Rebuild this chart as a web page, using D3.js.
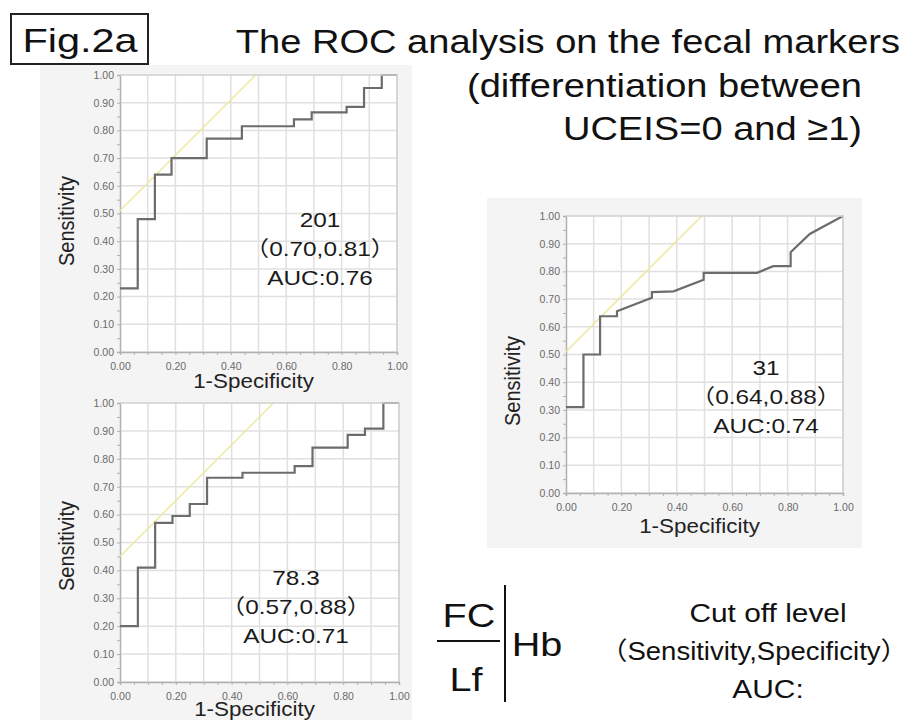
<!DOCTYPE html>
<html>
<head>
<meta charset="utf-8">
<script src="https://cdn.jsdelivr.net/npm/d3@7"></script>
<style>
  body { margin: 0; background: #fff; }
  svg { font-family: "Liberation Sans", Arial, "Noto Sans CJK JP", sans-serif; }
</style>
</head>
<body>
<div id="fig"></div>
<script>
// ROC curve vertices (1-Specificity, Sensitivity)
var fcX = [0, 0.064, 0.126, 0.186, 0.313, 0.44, 0.628, 0.692, 0.818, 0.881, 0.945, 1.0];
var fcY = [0.23, 0.48, 0.64, 0.70, 0.77, 0.815, 0.84, 0.865, 0.885, 0.953, 1.0, 1.0];

var lfX = [0, 0.064, 0.126, 0.188, 0.25, 0.312, 0.439, 0.626, 0.69, 0.816, 0.878, 0.944, 1.0];
var lfY = [0.20, 0.41, 0.57, 0.595, 0.638, 0.732, 0.75, 0.774, 0.84, 0.886, 0.908, 1.0, 1.0];

var hbX = [0, 0.063, 0.063, 0.123, 0.123, 0.184, 0.184, 0.31, 0.31, 0.388, 0.497, 0.497, 0.69, 0.748, 0.811, 0.811, 0.88, 1.0];
var hbY = [0.31, 0.31, 0.50, 0.50, 0.638, 0.638, 0.656, 0.705, 0.725, 0.728, 0.77, 0.795, 0.795, 0.819, 0.819, 0.869, 0.935, 1.0];

// tangent (yellow) line intercepts
var fcCut = 0.51, lfCut = 0.45, hbCut = 0.51;

var yTicks = [0, 0.1, 0.2, 0.3, 0.4, 0.5, 0.6, 0.7, 0.8, 0.9, 1.0];
var xTicks = [0, 0.2, 0.4, 0.6, 0.8, 1.0];

var fcNotes = ["201", "\uFF080.70,0.81\uFF09", "AUC:0.76"];
var lfNotes = ["78.3", "\uFF080.57,0.88\uFF09", "AUC:0.71"];
var hbNotes = ["31", "\uFF080.64,0.88\uFF09", "AUC:0.74"];

var svg = d3.select("#fig").append("svg")
    .attr("width", 913)
    .attr("height", 720);

// text that is a bit wider than Arial, like the original figure
function wideText(parent, x, y, size, sx, anchor, t) {
    return parent.append("text")
        .attr("transform", `translate(${x}, ${y}) scale(${sx}, 1)`)
        .attr("text-anchor", anchor)
        .attr("font-size", size + "px")
        .attr("fill", "#111")
        .text(t);
}

function drawPanel(p) {
    // light gray panel behind the plot
    svg.append("rect")
        .attr("x", p.bx).attr("y", p.by)
        .attr("width", p.bw).attr("height", p.bh)
        .attr("fill", "#f4f4f4");

    var g = svg.append("g")
        .attr("transform", `translate(${p.x}, ${p.y})`);

    var x = d3.scaleLinear().domain([0, 1]).range([0, p.size]);
    var y = d3.scaleLinear().domain([0, 1]).range([p.size, 0]);

    g.append("rect")
        .attr("width", p.size).attr("height", p.size)
        .attr("fill", "#fff");

    // grid
    g.selectAll(".gx").data(d3.range(1, 11).map(d => d / 10))
        .enter().append("line")
        .attr("x1", d => x(d)).attr("x2", d => x(d))
        .attr("y1", 0).attr("y2", p.size)
        .attr("stroke", "#e0e0e0").attr("stroke-width", 1.5);
    g.selectAll(".gy").data(d3.range(0, 10).map(d => d / 10))
        .enter().append("line")
        .attr("y1", d => y(d)).attr("y2", d => y(d))
        .attr("x1", 0).attr("x2", p.size)
        .attr("stroke", "#e0e0e0").attr("stroke-width", 1.5);

    var yAxis = d3.axisLeft(y).tickValues(d3.range(0, 21).map(d => d / 20))
        .tickSize(3)
        .tickFormat(d => yTicks.some(t => Math.abs(t - d) < 1e-6) ? d3.format(".2f")(d) : "");
    var xAxis = d3.axisBottom(x).tickValues(d3.range(0, 21).map(d => d / 20))
        .tickSize(3)
        .tickFormat(d => xTicks.some(t => Math.abs(t - d) < 1e-6) ? d3.format(".2f")(d) : "");

    var ya = g.append("g").call(yAxis);
    var xa = g.append("g").attr("transform", `translate(0, ${p.size})`).call(xAxis);
    [ya, xa].forEach(function(a) {
        a.select(".domain").attr("stroke", "#b0b0b0").attr("stroke-width", 1.5);
        a.selectAll(".tick line").attr("stroke", "#b0b0b0");
        a.selectAll(".tick text")
            .attr("fill", "#6a6a6a")
            .attr("font-size", "10.5px")
            .attr("font-family", "Liberation Sans, Arial, sans-serif");
    });
    xa.selectAll(".tick text").attr("dy", "1.1em");

    // yellow tangent line
    g.append("line")
        .attr("x1", x(0)).attr("y1", y(p.cut))
        .attr("x2", x(1 - p.cut)).attr("y2", y(1))
        .attr("stroke", "#eee89a").attr("stroke-width", 1.5);

    // ROC curve
    var pts = p.xs.map((d, i) => [d, p.ys[i]]);
    var line = d3.line()
        .x(d => x(d[0])).y(d => y(d[1]))
        .curve(p.step ? d3.curveStepAfter : d3.curveLinear);
    g.append("path")
        .attr("d", line(pts))
        .attr("fill", "none")
        .attr("stroke", "#6c6c6c")
        .attr("stroke-width", 2.2);

    // frame top/right
    g.append("path")
        .attr("d", `M0,0H${p.size}V${p.size}`)
        .attr("fill", "none").attr("stroke", "#d0d0d0").attr("stroke-width", 1.5);

    // axis titles
    g.append("text")
        .attr("transform", `translate(${p.ylabX}, ${p.ylabY}) rotate(-90) scale(1, 1.1)`)
        .attr("text-anchor", "middle")
        .attr("font-size", "20px")
        .attr("fill", "#222")
        .text("Sensitivity");
    wideText(g, p.size / 2 - 5, p.size + p.xlabDy, 20, 1.12, "middle", "1-Specificity")
        .attr("fill", "#222");

    // annotation
    p.notes.forEach(function(t, i) {
        wideText(svg, p.nx, p.ny + i * 29, 21, 1.16, "middle", t).attr("fill", "#1a1a1a");
    });
}

drawPanel({ bx: 40, by: 65, bw: 372, bh: 328, x: 120, y: 75, size: 277,
    xs: fcX, ys: fcY, step: true, cut: fcCut,
    ylabX: -46, ylabY: 146, xlabDy: 36,
    notes: fcNotes, nx: 320, ny: 227 });

drawPanel({ bx: 40, by: 393, bw: 372, bh: 327, x: 120, y: 403, size: 279,
    xs: lfX, ys: lfY, step: true, cut: lfCut,
    ylabX: -46, ylabY: 143, xlabDy: 34,
    notes: lfNotes, nx: 296, ny: 585 });

drawPanel({ bx: 487, by: 198, bw: 375, bh: 350, x: 566, y: 216, size: 277,
    xs: hbX, ys: hbY, step: false, cut: hbCut,
    ylabX: -46, ylabY: 165, xlabDy: 40,
    notes: hbNotes, nx: 766, ny: 375 });

// figure label
svg.append("rect")
    .attr("x", 11).attr("y", 14)
    .attr("width", 137).attr("height", 50)
    .attr("fill", "#fff").attr("stroke", "#222").attr("stroke-width", 2);
wideText(svg, 80, 52, 34, 1.22, "middle", "Fig.2a");

// title
var titleLines = ["The ROC analysis on the fecal markers", "(differentiation between", "UCEIS=0 and \u22651)"];
wideText(svg, 900, 53, 34, 1.12, "end", titleLines[0]);
wideText(svg, 862, 97, 34, 1.12, "end", titleLines[1]);
wideText(svg, 862, 140, 34, 1.12, "end", titleLines[2]);

// legend key
var key = svg.append("g");
wideText(key, 469, 627, 33, 1.2, "middle", "FC");
wideText(key, 466, 691, 33, 1.2, "middle", "Lf");
key.append("line").attr("x1", 437).attr("x2", 500).attr("y1", 641).attr("y2", 641)
    .attr("stroke", "#111").attr("stroke-width", 2);
key.append("line").attr("x1", 505).attr("x2", 505).attr("y1", 585).attr("y2", 702)
    .attr("stroke", "#111").attr("stroke-width", 2);
wideText(key, 537, 656, 33, 1.2, "middle", "Hb");

var keyLines = ["Cut off level", "\uFF08Sensitivity,Specificity\uFF09", "AUC:"];
keyLines.forEach(function(t, i) {
    wideText(key, i == 1 ? 754 : 768, 622 + i * 38, i == 1 ? 25 : 26, i == 1 ? 1.1 : 1.15, "middle", t);
});
</script>
</body>
</html>
